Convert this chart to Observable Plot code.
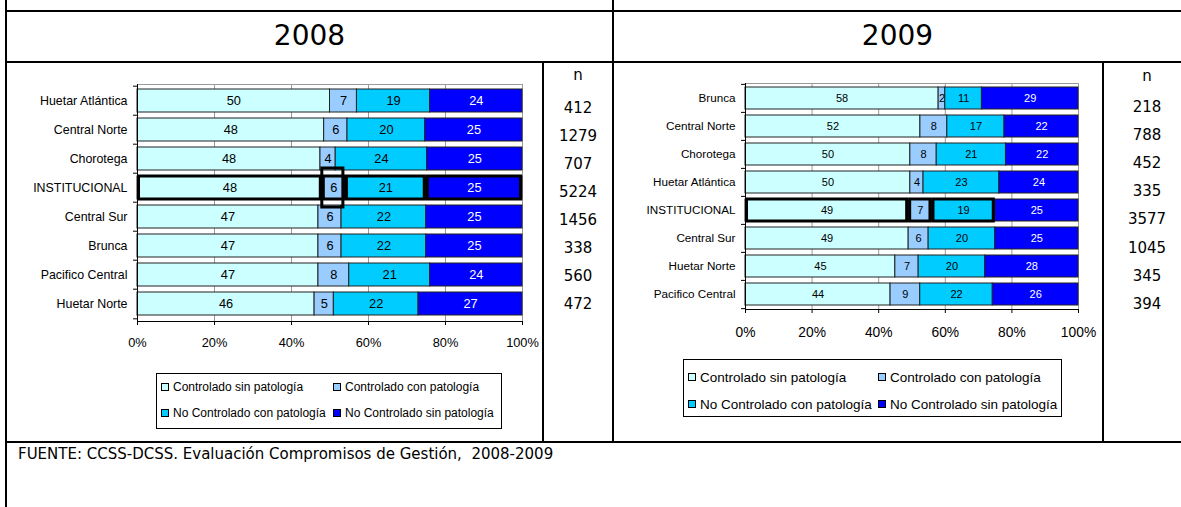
<!DOCTYPE html>
<html><head><meta charset="utf-8">
<script src="https://cdn.jsdelivr.net/npm/d3@7"></script>
<script src="https://cdn.jsdelivr.net/npm/@observablehq/plot@0.6"></script>
<style>
body{margin:0;background:#fff;}
#page{position:relative;width:1181px;height:507px;overflow:hidden;background:#fff;font-family:"DejaVu Sans",Verdana,sans-serif;color:#000;}
.ln{position:absolute;background:#000;}
.ttl{position:absolute;font-size:28px;line-height:1;text-align:center;}
.nv{position:absolute;font-size:15px;line-height:15px;text-align:center;width:70px;}
.src{position:absolute;left:18px;top:447px;font-size:15px;line-height:15px;white-space:pre;}
.panel{position:absolute;}
.leg{position:absolute;border:1px solid #000;background:#fff;font-family:"Liberation Sans",Arial,sans-serif;}
.li{position:absolute;white-space:nowrap;display:flex;align-items:center;}
.sw{display:inline-block;width:6px;height:6px;border:1px solid #000;margin-right:4px;}
</style>
</head><body>
<div id="page"></div>
<script>
const series = ["Controlado sin patología","Controlado con patología","No Controlado con patología","No Controlado sin patología"];
const colors = ["#CCFFFF","#99CCFF","#00CCFF","#0000FF"];

const regions2008 = ["Huetar Atlántica","Central Norte","Chorotega","INSTITUCIONAL","Central Sur","Brunca","Pacifico Central","Huetar Norte"];
const ctrlSin2008   = [50,48,48,48,47,47,47,46];
const ctrlCon2008   = [7,6,4,6,6,6,8,5];
const noCtrlCon2008 = [19,20,24,21,22,22,21,22];
const noCtrlSin2008 = [24,25,25,25,25,25,24,27];
const n2008 = [412,1279,707,5224,1456,338,560,472];

const regions2009 = ["Brunca","Central Norte","Chorotega","Huetar Atlántica","INSTITUCIONAL","Central Sur","Huetar Norte","Pacifico Central"];
const ctrlSin2009   = [58,52,50,50,49,49,45,44];
const ctrlCon2009   = [2,8,8,4,7,6,7,9];
const noCtrlCon2009 = [11,17,21,23,19,20,20,22];
const noCtrlSin2009 = [29,22,22,24,25,25,28,26];
const n2009 = [218,788,452,335,3577,1045,345,394];

const xTicks = [0,0.2,0.4,0.6,0.8,1];
const years = ["2008","2009"];
const sourceText = "FUENTE: CCSS-DCSS. Evaluación Compromisos de Gestión,  2008-2009";
const highlight = "INSTITUCIONAL";

const page = document.getElementById("page");
function div(cls, css, text){const d=document.createElement("div");d.className=cls;Object.assign(d.style,css);if(text!=null)d.textContent=text;page.appendChild(d);return d;}

// table lines
div("ln",{left:"5px",top:"0px",width:"2px",height:"507px"});
div("ln",{left:"5px",top:"10px",width:"1176px",height:"2px"});
div("ln",{left:"5px",top:"61px",width:"1176px",height:"2px"});
div("ln",{left:"5px",top:"441px",width:"1176px",height:"2px"});
div("ln",{left:"612px",top:"0px",width:"2px",height:"443px"});
div("ln",{left:"542px",top:"62px",width:"2px",height:"380px"});
div("ln",{left:"1102px",top:"62px",width:"2px",height:"380px"});

// titles
div("ttl",{left:"7px",width:"605px",top:"22px"},years[0]);
div("ttl",{left:"614px",width:"567px",top:"22px"},years[1]);
div("src",{},sourceText);

function nColumn(ns, cx, nBase, base0, step){
  div("nv",{left:(cx-35)+"px",top:(nBase-12.7)+"px"},"n");
  ns.forEach((v,i)=>div("nv",{left:(cx-35)+"px",top:(base0+i*step-12.7)+"px"},String(v)));
}
nColumn(n2008, 578, 80.7, 113.3, 28.1);
nColumn(n2009, 1147, 81.2, 112.3, 28.2);

function panel(cfg){
  const {cats, vals, left, top, width, height, ml, mr, mt, mb, catFont, lblFont, tickFont, tickPad, thick, tall} = cfg;
  const data = [];
  cats.forEach((c,i)=>series.forEach((s,j)=>data.push({region:c, serie:s, idx:j, value:vals[j][i]})));
  const isThick = d => d.region===highlight && thick.includes(d.idx);
  const isTall = d => d.region===highlight && tall.includes(d.idx);
  const plotW = width-ml-mr, plotH = height-mt-mb, step = plotH/cats.length;
  const stk = o => Plot.stackX({offset:"normalize", x:"value", y:"region", z:"serie", ...o});
  const chart = Plot.plot({
    width, height, marginLeft:ml, marginRight:mr, marginTop:mt, marginBottom:mb,
    style:{fontFamily:"'Liberation Sans',Arial,sans-serif", fontSize:catFont+"px", background:"transparent", overflow:"visible", color:"#000"},
    x:{domain:[0,1], label:null},
    y:{domain:cats, paddingInner:0.2, paddingOuter:0.1, label:null},
    color:{domain:series, range:colors},
    marks:[
      Plot.gridX(xTicks.slice(1), {stroke:"#9a9a9a", strokeOpacity:1}),
      Plot.frame({stroke:"#9a9a9a"}),
      Plot.barX(data, stk({fill:"serie", stroke:"#222", strokeWidth:1})),
      Plot.barX(data, stk({fill:"none", stroke:d=>isThick(d)?"#000":"none", strokeWidth:3, insetLeft:1.5, insetRight:1.5})),
      Plot.barX(data, stk({fill:"none", stroke:d=>isTall(d)?"#000":"none", strokeWidth:3, insetLeft:0, insetRight:2, insetTop:-8, insetBottom:-8})),
      Plot.text(data, stk({text:d=>String(d.value), fill:d=>d.idx===3?"#fff":"#000", fontSize:lblFont})),
      Plot.frame({anchor:"left", stroke:"#000"}),
      Plot.frame({anchor:"bottom", stroke:"#000"}),
      Plot.ruleY(cats, {y:d=>d, x1:-4/plotW, x2:0, dy:-step/2, stroke:"#000"}),
      Plot.ruleY(cats.slice(-1), {y:d=>d, x1:-4/plotW, x2:0, dy:step/2, stroke:"#000"}),
      Plot.axisY({tickSize:0, tickPadding:10, label:null, fontSize:catFont}),
      Plot.axisX({ticks:xTicks, tickFormat:d=>Math.round(d*100)+"%", tickSize:4, tickPadding:tickPad, label:null, fontSize:tickFont})
    ]
  });
  const holder = div("panel",{left:left+"px",top:top+"px"});
  holder.appendChild(chart);
}

panel({cats:regions2008, vals:[ctrlSin2008,ctrlCon2008,noCtrlCon2008,noCtrlSin2008],
  left:10, top:64, width:530, height:300, ml:127, mr:18, mt:20, mb:43,
  catFont:12.4, lblFont:12.8, tickFont:12.8, tickPad:12, thick:[0,1,2,3], tall:[1]});
panel({cats:regions2009, vals:[ctrlSin2009,ctrlCon2009,noCtrlCon2009,noCtrlSin2009],
  left:618, top:64, width:480, height:280, ml:127, mr:20, mt:19, mb:35,
  catFont:11.7, lblFont:11, tickFont:13.8, tickPad:14, thick:[0,1,2], tall:[]});

function legend(cfg){
  const {left, top, width, height, rows, cols, font} = cfg;
  const box = div("leg",{left:left+"px",top:top+"px",width:width+"px",height:height+"px",fontSize:font+"px"});
  const order = [[0,1],[2,3]];
  order.forEach((r,ri)=>r.forEach((si,ci)=>{
    const it=document.createElement("div"); it.className="li";
    it.style.left=cols[ci]+"px"; it.style.top=(rows[ri]-font*0.6)+"px"; it.style.height=(font*1.2)+"px";
    const sw=document.createElement("span"); sw.className="sw"; sw.style.background=colors[si];
    it.appendChild(sw); it.appendChild(document.createTextNode(series[si]));
    box.appendChild(it);
  }));
}
legend({left:156, top:373, width:344, height:54, rows:[13.5,39.5], cols:[4,176], font:12});
legend({left:683, top:359, width:377, height:56, rows:[17.5,44.5], cols:[4,194], font:13.5});
</script>
</body></html>
